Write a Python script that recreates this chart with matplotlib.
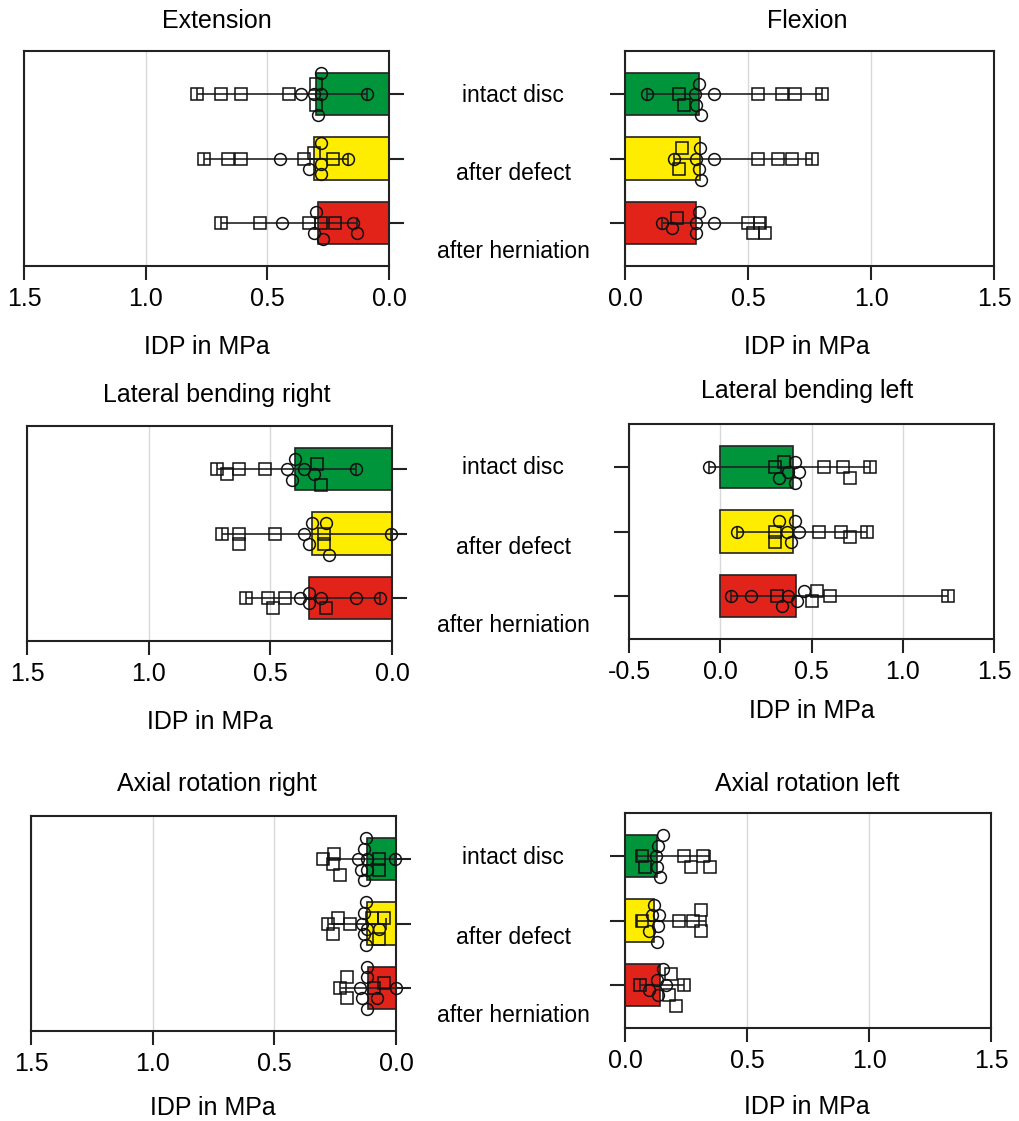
import matplotlib
matplotlib.use("Agg")
import matplotlib.pyplot as plt
import numpy as np

plt.rcParams['font.family'] = ['Liberation Sans', 'DejaVu Sans']
plt.rcParams['axes.unicode_minus'] = False

W, H = 1019, 1121

stages = ["intact disc", "after defect", "after herniation"]
stage_colors = ["#00953a", "#ffed00", "#e2231a"]

# --- Extension ---
ext_bar = [0.30, 0.31, 0.29]
ext_lo = [0.09, 0.17, 0.13]
ext_hi = [0.79, 0.76, 0.69]
ext_circ = [[0.36, 0.31, 0.28, 0.29, 0.28, 0.09],
            [0.45, 0.33, 0.28, 0.28, 0.28, 0.17],
            [0.44, 0.31, 0.30, 0.27, 0.15, 0.13]]
ext_sq = [[0.79, 0.69, 0.61, 0.41, 0.30, 0.30],
          [0.76, 0.66, 0.61, 0.31, 0.35, 0.23],
          [0.69, 0.53, 0.33, 0.28, 0.22]]

# --- Flexion ---
flx_bar = [0.30, 0.305, 0.29]
flx_lo = [0.09, 0.20, 0.15]
flx_hi = [0.80, 0.76, 0.57]
flx_circ = [[0.09, 0.285, 0.30, 0.29, 0.31, 0.36],
            [0.20, 0.30, 0.29, 0.305, 0.31, 0.36],
            [0.15, 0.19, 0.29, 0.30, 0.29, 0.36]]
flx_sq = [[0.22, 0.24, 0.54, 0.64, 0.69, 0.80],
          [0.22, 0.23, 0.54, 0.62, 0.68, 0.76],
          [0.21, 0.50, 0.55, 0.57, 0.52]]

# --- Lateral bending right ---
lbr_bar = [0.40, 0.33, 0.34]
lbr_lo = [0.15, 0.005, 0.05]
lbr_hi = [0.72, 0.70, 0.60]
lbr_circ = [[0.41, 0.36, 0.40, 0.32, 0.43, 0.15],
            [0.34, 0.36, 0.33, 0.27, 0.26, 0.005],
            [0.38, 0.34, 0.34, 0.29, 0.15, 0.05]]
lbr_sq = [[0.72, 0.68, 0.63, 0.52, 0.29, 0.31],
          [0.70, 0.63, 0.63, 0.48, 0.28, 0.28],
          [0.60, 0.51, 0.49, 0.44, 0.27]]

# --- Lateral bending left ---
lbl_bar = [0.40, 0.40, 0.415]
lbl_lo = [-0.06, 0.09, 0.06]
lbl_hi = [0.82, 0.805, 1.25]
lbl_circ = [[-0.06, 0.43, 0.37, 0.41, 0.32, 0.41],
            [0.09, 0.43, 0.365, 0.32, 0.39, 0.41],
            [0.06, 0.17, 0.37, 0.42, 0.34, 0.46]]
lbl_sq = [[0.30, 0.35, 0.57, 0.71, 0.67, 0.82],
          [0.30, 0.30, 0.54, 0.71, 0.66, 0.805],
          [0.31, 0.50, 0.60, 0.53, 1.25]]

# --- Axial rotation right ---
arr_bar = [0.12, 0.12, 0.115]
arr_lo = [0.005, 0.04, 0.0]
arr_hi = [0.28, 0.28, 0.23]
arr_circ = [[0.12, 0.125, 0.155, 0.13, 0.145, 0.005, 0.12, 0.13],
            [0.125, 0.14, 0.13, 0.12, 0.07, 0.125, 0.13],
            [0.14, 0.15, 0.08, 0.12, 0.12, 0.0, 0.12]]
arr_sq = [[0.26, 0.255, 0.30, 0.23, 0.07, 0.07],
          [0.28, 0.24, 0.19, 0.10, 0.05, 0.07, 0.26],
          [0.20, 0.20, 0.23, 0.05, 0.09]]

# --- Axial rotation left ---
arl_bar = [0.13, 0.12, 0.145]
arl_lo = [0.05, 0.05, 0.06]
arl_hi = [0.35, 0.33, 0.24]
arl_circ = [[0.135, 0.125, 0.145, 0.13, 0.155],
            [0.135, 0.12, 0.11, 0.10, 0.13, 0.14],
            [0.135, 0.10, 0.155, 0.17, 0.13]]
arl_sq = [[0.08, 0.07, 0.24, 0.27, 0.32, 0.35],
          [0.07, 0.22, 0.28, 0.31, 0.31],
          [0.06, 0.19, 0.21, 0.24, 0.18]]

# panel layout in pixels: (left, top, right, bottom)
panels = [
    dict(title="Extension", data=(ext_bar, ext_lo, ext_hi, ext_circ, ext_sq),
         box=(24, 51, 389, 266), flip=True, xlim=(1.5, 0.0),
         ticks=[1.5, 1.0, 0.5, 0.0], title_xy=(217, 21), xlab_xy=(207, 347)),
    dict(title="Flexion", data=(flx_bar, flx_lo, flx_hi, flx_circ, flx_sq),
         box=(625, 51, 994, 266), flip=False, xlim=(0.0, 1.5),
         ticks=[0.0, 0.5, 1.0, 1.5], title_xy=(807, 21), xlab_xy=(807, 347)),
    dict(title="Lateral bending right", data=(lbr_bar, lbr_lo, lbr_hi, lbr_circ, lbr_sq),
         box=(27, 426, 392, 641), flip=True, xlim=(1.5, 0.0),
         ticks=[1.5, 1.0, 0.5, 0.0], title_xy=(217, 395), xlab_xy=(210, 722)),
    dict(title="Lateral bending left", data=(lbl_bar, lbl_lo, lbl_hi, lbl_circ, lbl_sq),
         box=(629, 424, 994, 639), flip=False, xlim=(-0.5, 1.5),
         ticks=[-0.5, 0.0, 0.5, 1.0, 1.5], title_xy=(807, 391), xlab_xy=(812, 711)),
    dict(title="Axial rotation right", data=(arr_bar, arr_lo, arr_hi, arr_circ, arr_sq),
         box=(31, 816, 396, 1031), flip=True, xlim=(1.5, 0.0),
         ticks=[1.5, 1.0, 0.5, 0.0], title_xy=(217, 784), xlab_xy=(213, 1108)),
    dict(title="Axial rotation left", data=(arl_bar, arl_lo, arl_hi, arl_circ, arl_sq),
         box=(625, 813, 991, 1028), flip=False, xlim=(0.0, 1.5),
         ticks=[0.0, 0.5, 1.0, 1.5], title_xy=(807, 784), xlab_xy=(807, 1107)),
]
label_rows = [(96, 173, 252), (468, 547, 626), (858, 937, 1016)]

FS = 18
MS = 8.5  # marker size in points
DIAM = MS * 100 / 72.0  # marker diameter in pixels
SPREAD = 23  # max vertical swarm offset in pixels


def swarm_offsets(ax, xs):
    """bounded beeswarm: vertical offsets (pixels), overlap allowed when crowded"""
    px = ax.transData.transform(np.column_stack([xs, np.zeros(len(xs))]))[:, 0]
    order = np.argsort(px)
    step = DIAM * 0.45
    n = int(SPREAD // step)
    cands = [0.0]
    for k in range(1, n + 1):
        cands += [-k * step, k * step]
    offs = np.zeros(len(xs))
    placed = []
    for i in order:
        best, best_d = 0.0, -1
        for c in cands:
            d = min([np.hypot(px[i] - p, c - o) for p, o in placed] + [1e9])
            if d >= DIAM * 0.85:
                best = c
                break
            if d > best_d:
                best, best_d = c, d
        offs[i] = best
        placed.append((px[i], best))
    return offs


fig = plt.figure(figsize=(W / 100, H / 100), dpi=100)

for p in panels:
    l, t, r, b = p["box"]
    ax = fig.add_axes([l / W, 1 - b / H, (r - l) / W, (b - t) / H])
    bar, lo, hi, circ, sq = p["data"]
    ypos = np.arange(3)

    ax.set_xlim(*p["xlim"])
    ax.set_ylim(2.67, -0.67)
    ax.set_xticks(p["ticks"])
    ax.set_xticklabels([f"{v:.1f}" for v in p["ticks"]], fontsize=FS)
    ax.set_yticks(ypos)
    ax.grid(axis="x", color="#d9d9d9", lw=1.0)
    ax.set_axisbelow(True)
    for s in ax.spines.values():
        s.set_linewidth(1.5)
        s.set_color("#222222")
    ax.tick_params(axis="x", direction="out", length=10, width=1.5, pad=5, color="#222222")
    if p["flip"]:
        ax.yaxis.tick_right()
    ax.tick_params(axis="y", direction="out", length=11, width=1.5, color="#222222",
                   labelleft=False, labelright=False)

    ax.barh(ypos, bar, height=0.66, color=stage_colors, edgecolor="#222222", lw=1.2, zorder=2)

    # min-max whiskers with caps
    for i in range(3):
        c = bar[i]
        ax.errorbar(c, i, xerr=[[c - lo[i]], [hi[i] - c]], fmt="none", ecolor="#222222",
                    elinewidth=1.2, capsize=4.5, capthick=1.2, zorder=3)

    # pixels per data unit along y
    ppu = abs(ax.transData.transform((0, 1))[1] - ax.transData.transform((0, 0))[1])
    for i in range(3):
        xs = np.array(list(circ[i]) + list(sq[i]))
        kinds = ["o"] * len(circ[i]) + ["s"] * len(sq[i])
        offs = swarm_offsets(ax, xs) / ppu
        for x, o, k in zip(xs, offs, kinds):
            ax.plot(x, i - o, marker=k, ms=MS if k == "o" else MS * 0.95, mfc="none",
                    mec="#111111", mew=1.1, ls="none", zorder=4, clip_on=False)

    fig.text(p["title_xy"][0] / W, 1 - p["title_xy"][1] / H, p["title"],
             ha="center", va="center", fontsize=FS)
    fig.text(p["xlab_xy"][0] / W, 1 - p["xlab_xy"][1] / H, "IDP in MPa",
             ha="center", va="center", fontsize=FS)

for row in label_rows:
    for name, y in zip(stages, row):
        fig.text(513 / W, 1 - y / H, name, ha="center", va="center", fontsize=16.5)

fig.savefig("out.png", dpi=100)
